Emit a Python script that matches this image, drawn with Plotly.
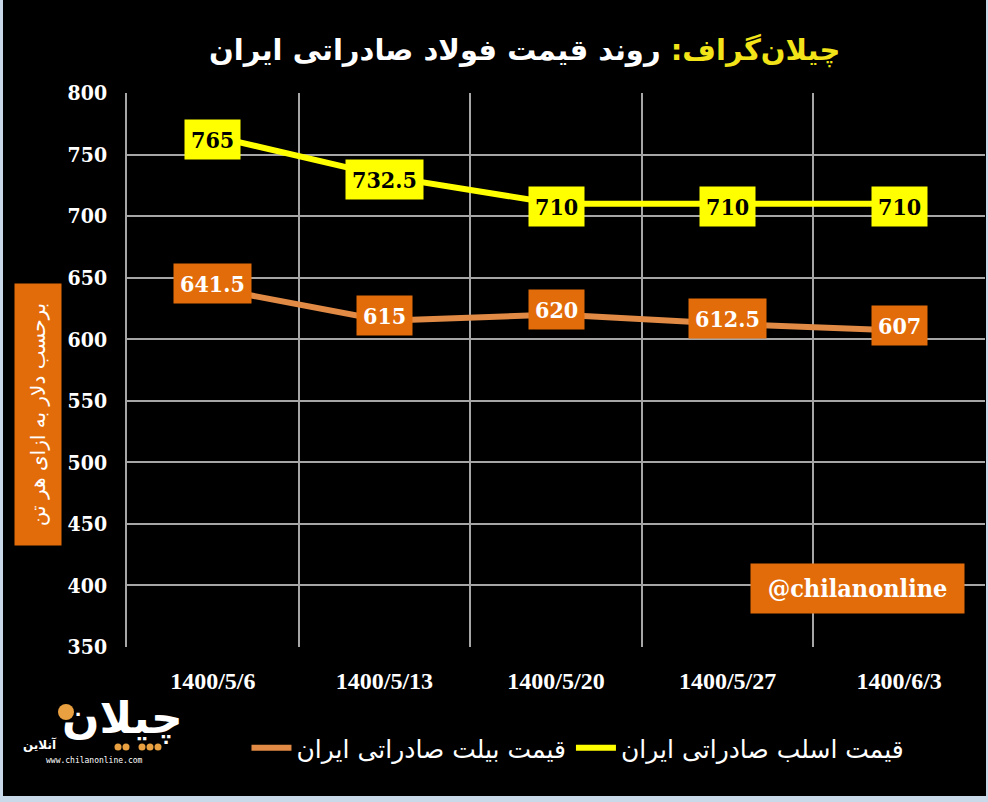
import plotly.graph_objects as go

# ---- data
dates = ['1400/5/6', '1400/5/13', '1400/5/20', '1400/5/27', '1400/6/3']
slab = [765, 732.5, 710, 710, 710]          # قیمت اسلب
billet = [641.5, 615, 620, 612.5, 607]      # قیمت بیلت
y_ticks = [350, 400, 450, 500, 550, 600, 650, 700, 750, 800]

name_slab = 'قیمت اسلب صادراتی ایران'
name_billet = 'قیمت بیلت صادراتی ایران'

W, H = 988, 802
L, R, T, B = 127, 3, 93, 155

YELLOW = '#ffff00'
ORANGE_LINE = '#e08a45'
ORANGE_BOX = '#e36c0a'
GRID = '#a6a6a6'
NUM_FONT = 'DejaVu Serif Condensed, DejaVu Serif, serif'
FA_FONT = 'DejaVu Sans, sans-serif'


def px_x(p):
    return (p - L) / (W - L - R)


def px_y(p):
    return (H - B - p) / (H - T - B)


def note(x, y, text, **kw):
    # annotation placed by picture pixels, centred
    fig.add_annotation(xref='paper', yref='paper', x=px_x(x), y=px_y(y),
                       xanchor='center', yanchor='middle', text=text,
                       showarrow=False, **kw)


def dot(x, y, r, color='#e8a040'):
    fig.add_shape(type='circle', xref='paper', yref='paper', line=dict(width=0),
                  fillcolor=color, x0=px_x(x - r), x1=px_x(x + r),
                  y0=px_y(y + r), y1=px_y(y - r))


fig = go.Figure()
fig.add_trace(go.Scatter(x=dates, y=billet, name=name_billet, mode='lines',
                         line=dict(color=ORANGE_LINE, width=6)))
fig.add_trace(go.Scatter(x=dates, y=slab, name=name_slab, mode='lines',
                         line=dict(color=YELLOW, width=6)))

# data labels in coloured boxes
for d, v in zip(dates, slab):
    fig.add_annotation(x=d, y=v, text='%g' % v, showarrow=False,
                       bgcolor=YELLOW, borderpad=6, yshift=-3,
                       font=dict(family=NUM_FONT, size=23, color='black', weight='bold'))
for d, v in zip(dates, billet):
    fig.add_annotation(x=d, y=v, text='%g' % v, showarrow=False,
                       bgcolor=ORANGE_BOX, borderpad=6, yshift=5,
                       font=dict(family=NUM_FONT, size=23, color='white', weight='bold'))

# title
note(524, 50, "\u200f<span style='color:#f2e418'>چیلان‌گراف:</span> روند قیمت فولاد صادراتی ایران",
     font=dict(family=FA_FONT, size=29, color='white', weight='bold'))

# y axis title box
note(38, 415, 'برحسب دلار به ازای هر تن', textangle=-90,
     bgcolor=ORANGE_BOX, width=255, height=40, borderpad=3,
     font=dict(family=FA_FONT, size=20, color='white'))

# handle box
note(857, 588, '@chilanonline', bgcolor=ORANGE_BOX, width=205, height=41, borderpad=4,
     font=dict(family=NUM_FONT, size=25, color='white', weight='bold'))

# logo
note(122, 718, 'چیلان', font=dict(family=FA_FONT, size=44, color='white', weight='bold'))
dot(66, 712, 8)
for cx in (118, 126, 142, 150, 158):
    dot(cx, 747, 3.5)
note(40, 744, 'آنلاین', font=dict(family=FA_FONT, size=12, color='white', weight='bold'))
note(94, 760, 'www.chilanonline.com',
     font=dict(family='DejaVu Sans Mono, monospace', size=8, color='white'))

# light frame round the picture
frame = dict(type='rect', xref='paper', yref='paper', line=dict(width=0),
             fillcolor='#c9d9ea', layer='above')
fig.add_shape(**frame, x0=px_x(0), x1=px_x(3), y0=px_y(802), y1=px_y(0))
fig.add_shape(**frame, x0=px_x(0), x1=px_x(988), y0=px_y(802), y1=px_y(796))
fig.add_shape(**frame, x0=px_x(986), x1=px_x(988), y0=px_y(802), y1=px_y(0))

fig.update_layout(
    width=W, height=H,
    margin=dict(l=L, r=R, t=T, b=B),
    paper_bgcolor='black', plot_bgcolor='black',
    showlegend=True,
    legend=dict(orientation='h', xref='container', yref='container',
                x=0.585, xanchor='center', y=1 - 748 / H, yanchor='middle',
                font=dict(family=FA_FONT, size=25, color='white'),
                itemwidth=40, bgcolor='rgba(0,0,0,0)'),
)
fig.update_xaxes(type='category', range=[-0.5, 4.5], tickson='boundaries', showgrid=True,
                 gridcolor=GRID, gridwidth=1.5, ticks='', zeroline=False,
                 ticklabelstandoff=17,
                 tickfont=dict(family='Liberation Serif, serif', size=24,
                               color='white', weight='bold'))
fig.update_yaxes(range=[350, 800], tickvals=y_ticks, showgrid=True,
                 gridcolor=GRID, gridwidth=1.5, zeroline=False,
                 showline=True, linecolor=GRID, linewidth=1.5,
                 ticks='', ticklabelstandoff=14,
                 tickfont=dict(family=NUM_FONT, size=21, color='white', weight='bold'))

fig.write_html('out.html', config={'displayModeBar': False},
               post_script="document.body.style.margin='0';")
